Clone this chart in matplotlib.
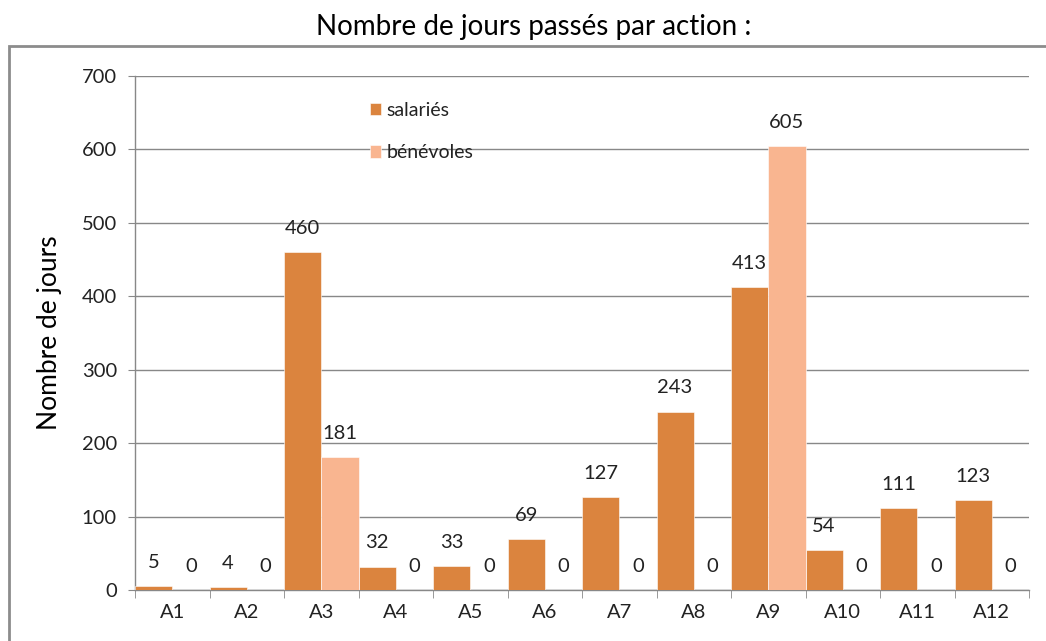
import matplotlib
matplotlib.use("Agg")
import matplotlib.pyplot as plt
import numpy as np
from matplotlib.patches import Rectangle

categories = ["A1", "A2", "A3", "A4", "A5", "A6", "A7", "A8", "A9", "A10", "A11", "A12"]
salaries = [5, 4, 460, 32, 33, 69, 127, 243, 413, 54, 111, 123]
benevoles = [0, 0, 181, 0, 0, 0, 0, 0, 605, 0, 0, 0]
series_names = ["salariés", "bénévoles"]
yticks = [0, 100, 200, 300, 400, 500, 600, 700]

c_sal = "#DB843E"
c_ben = "#F9B590"
grid_c = "#888888"
txt_c = "#222222"

plt.rcParams['font.family'] = ['Lato', 'DejaVu Sans']

W, H = 1046, 641
fig = plt.figure(figsize=(W / 100, H / 100), dpi=100)

# outer frame
fig.patches.append(Rectangle((9 / W, -0.05), 1.2, 1 - 46 / H + 0.05, transform=fig.transFigure,
                             fill=False, edgecolor="#8c8c8c", linewidth=2))

ax = fig.add_axes([135 / W, 1 - 590 / H, (1029 - 135) / W, (590 - 76) / H])

x = np.arange(len(categories))
bw = 0.5
b1 = ax.bar(x - bw / 2, salaries, width=bw, color=c_sal, edgecolor="white", linewidth=0.4,
            label=series_names[0], zorder=3)
b2 = ax.bar(x + bw / 2, benevoles, width=bw, color=c_ben, edgecolor="white", linewidth=0.4,
            label=series_names[1], zorder=3)

for bars, vals in ((b1, salaries), (b2, benevoles)):
    for rect, v in zip(bars, vals):
        ax.annotate(str(v), (rect.get_x() + rect.get_width() / 2, v), xytext=(0, 17),
                    textcoords="offset points", ha="center", va="center",
                    fontsize=14.5, color=txt_c)

ax.set_xlim(-0.5, len(categories) - 0.5)
ax.set_ylim(0, 700)
ax.set_yticks(yticks)
ax.yaxis.grid(True, color=grid_c, linewidth=1)
ax.set_axisbelow(True)

ax.set_xticks(x)
ax.set_xticklabels(categories)
ax.set_xticks(np.arange(-0.5, len(categories), 1), minor=True)
ax.tick_params(axis="x", which="major", length=0, pad=10, labelsize=14.5, colors=txt_c)
ax.tick_params(axis="x", which="minor", length=6, color=grid_c, direction="out")
ax.tick_params(axis="y", length=5, color=grid_c, pad=8, labelsize=14.5, labelcolor=txt_c)

for s in ("top", "right"):
    ax.spines[s].set_visible(False)
for s in ("left", "bottom"):
    ax.spines[s].set_color(grid_c)
    ax.spines[s].set_linewidth(1)

ax.set_ylabel("Nombre de jours", fontsize=19, color="black", labelpad=14)

leg = ax.legend(loc="upper left", bbox_to_anchor=(362 / W, 1 - 94 / H), bbox_transform=fig.transFigure,
                frameon=False, fontsize=14, handlelength=0.6, handleheight=0.6,
                handletextpad=0.25, labelspacing=1.32, borderaxespad=0)
for t in leg.get_texts():
    t.set_color(txt_c)

fig.text(534 / W, 1 - 27 / H, "Nombre de jours passés par action :", ha="center", va="center",
         fontsize=20, color="black")

fig.savefig("out.png", dpi=100)
